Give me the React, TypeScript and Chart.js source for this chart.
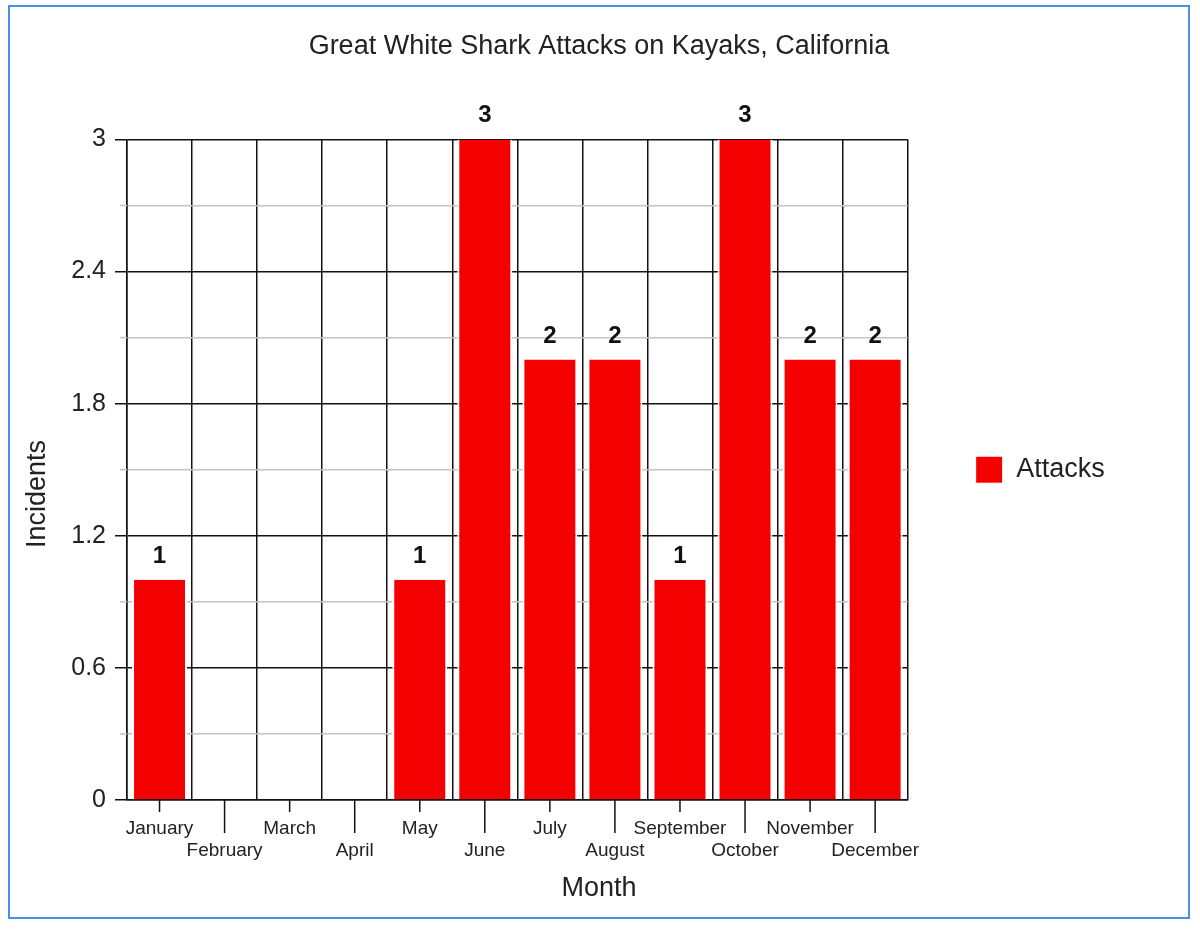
import { useEffect, useRef } from "react";
import { Chart, registerables, type Plugin } from "chart.js";

Chart.register(...registerables);

const FONT = "'Liberation Sans', Arial, Helvetica, sans-serif";
Chart.defaults.font.family = FONT;

const months = [
  "January", "February", "March", "April", "May", "June",
  "July", "August", "September", "October", "November", "December",
];
const attacks = [1, 0, 0, 0, 1, 3, 2, 2, 1, 3, 2, 2];

const seriesLabel = "Attacks";
const chartTitle = "Great White Shark Attacks on Kayaks, California";
const xTitle = "Month";
const yTitle = "Incidents";

const yMin = 0;
const yMax = 3;
const yStep = 0.3; // labelled every 0.6, grey minor line in between

const isMinor = (v: number) => Math.round(v * 10) % 6 !== 0;

// numbers above the bars (none for empty months)
const barLabels: Plugin<"bar"> = {
  id: "barLabels",
  afterDatasetsDraw(chart) {
    const { ctx } = chart;
    const meta = chart.getDatasetMeta(0);
    ctx.save();
    ctx.font = `bold 24px ${FONT}`;
    ctx.fillStyle = "#111";
    ctx.textAlign = "center";
    ctx.textBaseline = "alphabetic";
    meta.data.forEach((bar, i) => {
      const v = attacks[i];
      if (!v) return;
      ctx.fillText(String(v), bar.x, bar.y - 17);
    });
    ctx.restore();
  },
};

// x tick marks sit at the category centres, long ones reach the lower label row
const extraTicks: Plugin<"bar"> = {
  id: "extraTicks",
  afterDraw(chart) {
    const { ctx, chartArea, scales } = chart;
    const x = scales.x;
    const y = scales.y;
    ctx.save();
    ctx.lineWidth = 1.5;
    ctx.strokeStyle = "#111";
    months.forEach((_, i) => {
      const px = x.getPixelForValue(i);
      ctx.beginPath();
      ctx.moveTo(px, chartArea.bottom);
      ctx.lineTo(px, chartArea.bottom + (i % 2 ? 33 : 12));
      ctx.stroke();
    });
    ctx.strokeStyle = "#c4c4c4";
    y.ticks.forEach((t) => {
      if (!isMinor(t.value)) return;
      const py = y.getPixelForValue(t.value);
      ctx.beginPath();
      ctx.moveTo(chartArea.left - 7, py);
      ctx.lineTo(chartArea.left, py);
      ctx.stroke();
    });
    ctx.restore();
  },
};

// axis titles: centred on the whole figure like the original, not on the plot
const axisTitles: Plugin<"bar"> = {
  id: "axisTitles",
  afterDraw(chart) {
    const { ctx } = chart;
    ctx.save();
    ctx.fillStyle = "#222";
    ctx.font = `27px ${FONT}`;
    ctx.textAlign = "center";
    ctx.textBaseline = "middle";
    ctx.fillText(xTitle, chart.width / 2, chart.height - 28);
    ctx.translate(28, 487);
    ctx.rotate(-Math.PI / 2);
    ctx.fillText(yTitle, 0, 0);
    ctx.restore();
  },
};

export default function App() {
  const canvasRef = useRef<HTMLCanvasElement>(null);

  useEffect(() => {
    if (!canvasRef.current) return;
    const chart = new Chart(canvasRef.current, {
      type: "bar",
      plugins: [barLabels, extraTicks, axisTitles],
      data: {
        labels: months,
        datasets: [{
          label: seriesLabel,
          data: attacks,
          backgroundColor: "#f50000",
          borderColor: "#ffffff",
          borderWidth: { left: 2, right: 2, top: 0, bottom: 0 },
          categoryPercentage: 1,
          barPercentage: 0.845,
        }],
      },
      options: {
        responsive: false,
        animation: false,
        plugins: {
          title: {
            display: true,
            text: chartTitle,
            color: "#222",
            font: { size: 27, weight: "normal" },
            padding: { top: 23, bottom: 77 },
          },
          legend: {
            position: "right",
            fullSize: false,
            align: "center",
            labels: {
              boxWidth: 27,
              boxHeight: 27,
              padding: 68,
              color: "#222",
              font: { size: 27 },
            },
          },
          tooltip: { enabled: false },
        },
        scales: {
          x: {
            afterFit: (s) => { s.height = 117; },
            grid: { offset: true, color: "#111", lineWidth: 1.5, drawTicks: false },
            border: { display: true, color: "#111", width: 1.5 },
            ticks: {
              autoSkip: false,
              maxRotation: 0,
              minRotation: 0,
              padding: 17,
              color: "#222",
              font: { size: 19, lineHeight: 1.2 },
              callback: (_v, i) => (i % 2 ? ["", months[i]] : months[i]),
            },
          },
          y: {
            min: yMin,
            max: yMax,
            afterFit: (s) => { s.width = 117; },
            grid: {
              color: (c) => (isMinor(c.tick.value) ? "#c4c4c4" : "#111"),
              tickColor: (c) => (isMinor(c.tick.value) ? "transparent" : "#111"),
              lineWidth: 1.5,
              tickLength: 12,
            },
            border: { display: true, color: "#111", width: 1.5 },
            ticks: {
              stepSize: yStep,
              padding: 9,
              color: "#222",
              font: { size: 25 },
              callback: (v) =>
                isMinor(Number(v)) ? "" : String(Math.round(Number(v) * 10) / 10),
            },
          },
          // empty spacer outside the legend, so the title stays centred on the canvas
          spacer: {
            type: "linear",
            position: "right",
            weight: 2000,
            afterFit: (s) => { s.width = 84; },
            grid: { display: false },
            border: { display: false },
            ticks: { display: false },
          },
        },
      },
    });
    return () => chart.destroy();
  }, []);

  return (
    <div style={{
      position: "absolute", left: 8, top: 5, width: 1182, height: 914,
      border: "2px solid #4a8fe8", boxSizing: "border-box", background: "#fff",
    }}>
      <canvas ref={canvasRef} width={1178} height={910} style={{ display: "block" }} />
    </div>
  );
}
